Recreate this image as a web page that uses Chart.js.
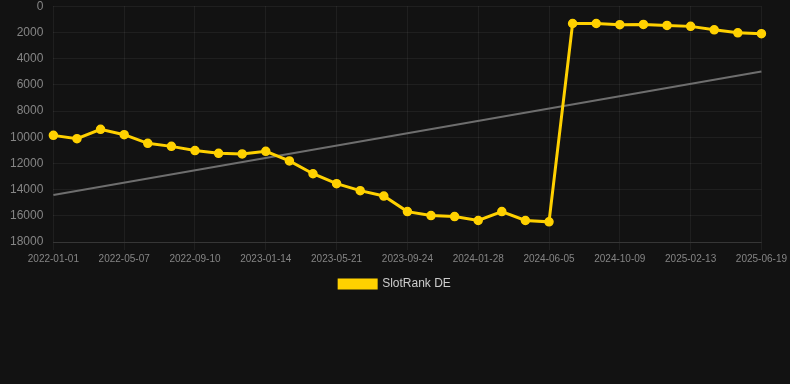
<!DOCTYPE html>
<html>
<head>
<meta charset="utf-8">
<script src="https://cdn.jsdelivr.net/npm/chart.js@4/dist/chart.umd.min.js"></script>
<style>
  html, body { margin: 0; padding: 0; background: #121212; overflow: hidden; }
  #wrap { width: 790px; height: 311px; position: relative; margin-top: -11px; }
</style>
</head>
<body>
<div id="wrap"><canvas id="chart"></canvas></div>
<script>
const dates = [
  "2022-01-01", "2022-02-12", "2022-03-26", "2022-05-07", "2022-06-18", "2022-07-30",
  "2022-09-10", "2022-10-22", "2022-12-03", "2023-01-14", "2023-02-25", "2023-04-08",
  "2023-05-21", "2023-07-02", "2023-08-13", "2023-09-24", "2023-11-05", "2023-12-17",
  "2024-01-28", "2024-03-10", "2024-04-21", "2024-06-05", "2024-07-17", "2024-08-28",
  "2024-10-09", "2024-11-20", "2025-01-01", "2025-02-13", "2025-03-27", "2025-05-08",
  "2025-06-19",
];

const rankDE = [
  9860, 10110, 9400, 9810, 10470, 10700, 11020, 11230, 11280, 11080, 11810,
  12790, 13550, 14080, 14490, 15680, 15980, 16060, 16360, 15680, 16360, 16460,
  1320, 1320, 1410, 1390, 1470, 1540, 1800, 2030, 2100,
];

// trend line: only the two ends are given, the line spans the gap
const trend = [14410, ...Array(29).fill(null), 4980];

const yTicks = { min: 0, max: 18000, step: 2000 };

const gridColor = "rgba(255,255,255,0.06)";
const tickColor = "#858585";
const fontFamily = "Arial, 'Liberation Sans', sans-serif";

new Chart(document.getElementById("chart"), {
  type: "line",
  data: {
    labels: dates,
    datasets: [
      {
        label: "SlotRank DE",
        data: rankDE,
        borderColor: "#ffd100",
        backgroundColor: "#ffd100",
        borderWidth: 3,
        pointRadius: 4,
        pointBorderWidth: 1.5,
        pointHoverRadius: 5,
        pointBackgroundColor: "#ffd100",
        pointBorderColor: "#ffd100",
        tension: 0,
        order: 1,
      },
      {
        label: "trend",
        data: trend,
        borderColor: "#6e6e6e",
        borderWidth: 2,
        pointRadius: 0,
        spanGaps: true,
        fill: false,
        order: 2,
      },
    ],
  },
  options: {
    responsive: true,
    maintainAspectRatio: false,
    animation: false,
    plugins: {
      legend: {
        position: "bottom",
        labels: {
          color: "#cccccc",
          boxWidth: 37,
          boxHeight: 8,
          font: { size: 12, family: fontFamily },
          filter: (item) => item.text !== "trend",
        },
      },
      tooltip: { enabled: false },
    },
    scales: {
      x: {
        offset: false,
        grid: { color: gridColor, tickLength: 8 },
        border: { color: "rgba(255,255,255,0.1)" },
        ticks: {
          color: tickColor,
          autoSkip: false,
          maxRotation: 0,
          font: { size: 10, family: fontFamily },
          callback: function (v, i) {
            return i % 3 === 0 ? this.getLabelForValue(v) : null;
          },
        },
      },
      y: {
        reverse: true,
        min: yTicks.min,
        max: yTicks.max,
        grid: { color: gridColor, drawTicks: false },
        border: { display: false },
        ticks: {
          stepSize: yTicks.step,
          color: tickColor,
          padding: 10,
          font: { size: 12, family: fontFamily },
          callback: (v) => String(v),
        },
      },
    },
  },
});
</script>
</body>
</html>
